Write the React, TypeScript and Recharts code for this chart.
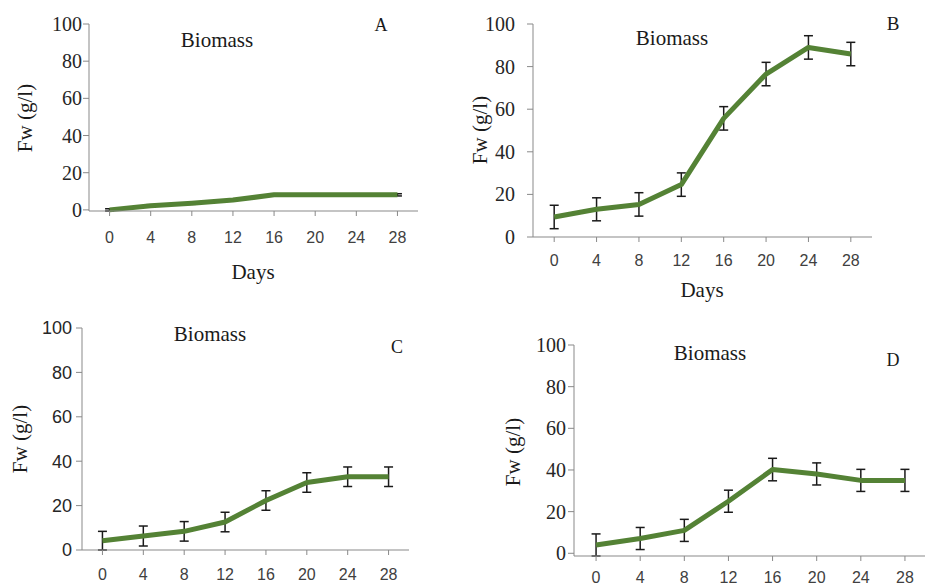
import React from 'react';
import { LineChart, Line, XAxis, YAxis, ErrorBar } from 'recharts';

const days = ['0', '4', '8', '12', '16', '20', '24', '28'];
const yTicks = [0, 20, 40, 60, 80, 100];

// fresh weight (g/l), with the +/- error
const biomassA = [0, 2.2, 3.6, 5.3, 8.1, 8.1, 8.1, 8.1];
const errA = [0.6, 0.6, 0.6, 0.6, 0.6, 0.6, 0.6, 0.6];
const biomassB = [9.4, 13, 15.3, 24.6, 55.7, 76.5, 89, 85.9];
const errB = [5.5, 5.4, 5.5, 5.5, 5.5, 5.5, 5.5, 5.5];
const biomassC = [4.2, 6.3, 8.4, 12.6, 22.3, 30.4, 33, 33];
const errC = [4.2, 4.5, 4.4, 4.4, 4.4, 4.4, 4.4, 4.4];
const biomassD = [4, 7.1, 11, 25, 40.2, 38.1, 35, 35];
const errD = [5.3, 5.3, 5.3, 5.3, 5.4, 5.3, 5.3, 5.3];

const SERIF = '"Liberation Serif", "Times New Roman", serif';
const SANS = '"Liberation Sans", Arial, sans-serif';
const GREEN = '#548235';
const AXIS = '#898989';

type Margin = { top: number; right: number; bottom: number; left: number };

interface PanelProps {
  left: number;
  top: number;
  width: number;
  height: number;
  margin: Margin;
  yWidth: number;
  xHeight: number;
  values: number[];
  errors: number[];
  yFont: string;
  yFontSize: number;
  yTickMargin: number;
  xTickMargin: number;
}

// tick text with the font set directly, so the serif/sans mix of the original holds
const makeTick = (font: string, size: number, fill: string, vertical: boolean) => (props: any) => {
  const { x, y, payload, textAnchor } = props;
  return (
    <text
      x={x}
      y={y}
      dy={vertical ? '0.35em' : '0.75em'}
      textAnchor={textAnchor}
      fill={fill}
      fontFamily={font}
      fontSize={size}
      style={{ fontFamily: font, fontSize: size }}
    >
      {payload.value}
    </text>
  );
};

const Panel = ({ left, top, width, height, margin, yWidth, xHeight, values, errors, yFont, yFontSize, yTickMargin, xTickMargin }: PanelProps) => {
  const data = days.map((d, i) => ({ day: d, fw: values[i], err: errors[i] }));
  const plotW = width - margin.left - margin.right - yWidth;
  const half = plotW / days.length / 2;

  return (
    <div style={{ position: 'absolute', left, top, fontFamily: yFont }}>
      <LineChart width={width} height={height} data={data} margin={margin}>
        <XAxis
          dataKey="day"
          interval={0}
          padding={{ left: half, right: half }}
          height={xHeight}
          tickSize={5}
          tickMargin={xTickMargin}
          stroke={AXIS}
          tick={makeTick(SANS, 16, '#404040', false)}
        />
        <YAxis
          type="number"
          domain={[0, 100]}
          ticks={yTicks}
          interval={0}
          width={yWidth}
          tickSize={6}
          tickMargin={yTickMargin}
          stroke={AXIS}
          tick={makeTick(yFont, yFontSize, '#262626', true)}
        />
        <Line
          dataKey="fw"
          stroke={GREEN}
          strokeWidth={5}
          strokeLinejoin="round"
          dot={false}
          activeDot={false}
          isAnimationActive={false}
        >
          <ErrorBar dataKey="err" direction="y" width={4.5} stroke="#1a1a1a" strokeWidth={1.5} isAnimationActive={false} />
        </Line>
      </LineChart>
    </div>
  );
};

const Txt = ({ x, y, size, font = SERIF, rotate = 0, children }: { x: number; y: number; size: number; font?: string; rotate?: number; children: React.ReactNode }) => (
  <div
    style={{
      position: 'absolute',
      left: x,
      top: y,
      transform: `translate(-50%, -50%) rotate(${rotate}deg)`,
      fontFamily: font,
      fontSize: size,
      lineHeight: 1,
      whiteSpace: 'nowrap',
      color: '#1a1a1a',
    }}
  >
    {children}
  </div>
);

export default function App() {
  return (
    <div style={{ position: 'absolute', left: 0, top: 0, width: 925, height: 587, overflow: 'hidden', background: '#fff' }}>
      <Panel
        left={0} top={0} width={460} height={290}
        margin={{ top: 24, right: 42, bottom: 19, left: 0 }}
        yWidth={89} xHeight={60}
        values={biomassA} errors={errA}
        yFont={SERIF} yFontSize={20} yTickMargin={1} xTickMargin={15}
      />
      <Panel
        left={460} top={0} width={465} height={300}
        margin={{ top: 24, right: 53, bottom: 13, left: 0 }}
        yWidth={73} xHeight={50}
        values={biomassB} errors={errB}
        yFont={SERIF} yFontSize={20} yTickMargin={12} xTickMargin={12}
      />
      <Panel
        left={0} top={300} width={460} height={287}
        margin={{ top: 28, right: 51, bottom: 0, left: 0 }}
        yWidth={82} xHeight={37}
        values={biomassC} errors={errC}
        yFont={SANS} yFontSize={18} yTickMargin={4} xTickMargin={13}
      />
      <Panel
        left={460} top={320} width={467} height={267}
        margin={{ top: 25, right: 0, bottom: 0, left: 0 }}
        yWidth={114} xHeight={31}
        values={biomassD} errors={errD}
        yFont={SERIF} yFontSize={20} yTickMargin={2} xTickMargin={10}
      />

      <Txt x={217} y={40} size={21}>Biomass</Txt>
      <Txt x={381} y={25} size={18}>A</Txt>
      <Txt x={25} y={118} size={21} rotate={-90}>Fw (g/l)</Txt>
      <Txt x={253} y={272} size={21}>Days</Txt>

      <Txt x={672} y={38} size={21}>Biomass</Txt>
      <Txt x={893} y={23} size={19}>B</Txt>
      <Txt x={480} y={130} size={21} rotate={-90}>Fw (g/l)</Txt>
      <Txt x={702} y={290} size={21}>Days</Txt>

      <Txt x={210} y={334} size={21}>Biomass</Txt>
      <Txt x={397} y={347} size={18}>C</Txt>
      <Txt x={20} y={439} size={21} rotate={-90}>Fw (g/l)</Txt>

      <Txt x={710} y={353} size={21}>Biomass</Txt>
      <Txt x={893} y={360} size={18}>D</Txt>
      <Txt x={513} y={452} size={21} rotate={-90}>Fw (g/l)</Txt>
    </div>
  );
}
